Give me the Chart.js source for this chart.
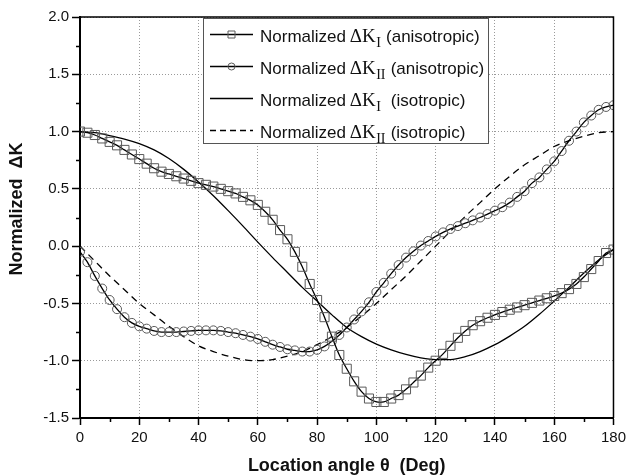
<!DOCTYPE html>
<html>
<head>
<meta charset="utf-8">
<script src="https://cdn.jsdelivr.net/npm/chart.js@4/dist/chart.umd.min.js"></script>
<style>
  html, body { margin: 0; padding: 0; background: #fff; }
  #wrap { width: 630px; height: 476px; position: relative; }
</style>
</head>
<body>
<div id="wrap"><canvas id="c" width="630" height="476"></canvas></div>
<script>
// ---- data ----
const anglesFine = [0,2.5,5,7.5,10,12.5,15,17.5,20,22.5,25,27.5,30,32.5,35,37.5,40,42.5,45,47.5,50,52.5,55,57.5,60,62.5,65,67.5,70,72.5,75,77.5,80,82.5,85,87.5,90,92.5,95,97.5,100,102.5,105,107.5,110,112.5,115,117.5,120,122.5,125,127.5,130,132.5,135,137.5,140,142.5,145,147.5,150,152.5,155,157.5,160,162.5,165,167.5,170,172.5,175,177.5,180];
const anglesCoarse = [0,5,10,15,20,25,30,35,40,45,50,55,60,65,70,75,80,85,90,95,100,105,110,115,120,125,130,135,140,145,150,155,160,165,170,175,180];

const kIAniso = [1.00,0.99,0.97,0.94,0.91,0.88,0.84,0.80,0.76,0.72,0.68,0.65,0.63,0.61,0.59,0.57,0.55,0.535,0.52,0.50,0.48,0.46,0.43,0.40,0.36,0.30,0.23,0.14,0.06,-0.05,-0.18,-0.33,-0.47,-0.62,-0.79,-0.95,-1.07,-1.18,-1.27,-1.33,-1.36,-1.36,-1.33,-1.30,-1.25,-1.19,-1.13,-1.06,-1.00,-0.94,-0.87,-0.80,-0.74,-0.69,-0.655,-0.625,-0.60,-0.575,-0.555,-0.535,-0.515,-0.495,-0.475,-0.455,-0.435,-0.41,-0.375,-0.33,-0.27,-0.20,-0.13,-0.06,-0.03];

const kIIAniso = [-0.05,-0.14,-0.26,-0.37,-0.47,-0.55,-0.62,-0.67,-0.70,-0.72,-0.74,-0.75,-0.75,-0.75,-0.745,-0.74,-0.735,-0.735,-0.735,-0.74,-0.75,-0.76,-0.775,-0.79,-0.81,-0.835,-0.86,-0.88,-0.90,-0.91,-0.92,-0.92,-0.905,-0.875,-0.83,-0.775,-0.71,-0.64,-0.57,-0.49,-0.40,-0.32,-0.24,-0.165,-0.10,-0.045,0.005,0.045,0.085,0.12,0.15,0.175,0.20,0.225,0.25,0.28,0.31,0.34,0.38,0.43,0.48,0.55,0.60,0.67,0.74,0.83,0.92,1.00,1.08,1.14,1.19,1.215,1.23];

const kIIso = [1.00,0.99,0.965,0.935,0.895,0.84,0.765,0.67,0.56,0.44,0.31,0.175,0.035,-0.10,-0.23,-0.36,-0.48,-0.60,-0.71,-0.79,-0.855,-0.905,-0.945,-0.975,-0.99,-0.99,-0.965,-0.92,-0.86,-0.785,-0.70,-0.595,-0.48,-0.36,-0.235,-0.12,-0.03];

const kIIIso = [0.00,-0.13,-0.26,-0.38,-0.50,-0.60,-0.70,-0.79,-0.87,-0.92,-0.96,-0.99,-1.00,-0.99,-0.96,-0.92,-0.86,-0.79,-0.71,-0.61,-0.50,-0.38,-0.26,-0.13,0.00,0.13,0.26,0.38,0.50,0.61,0.71,0.79,0.87,0.92,0.96,0.99,1.00];

const xTicks = [0,20,40,60,80,100,120,140,160,180];
const yTicks = [-1.5,-1.0,-0.5,0.0,0.5,1.0,1.5,2.0];

const xTitle = 'Location angle \u03b8  (Deg)';
const yTitle = 'Normalized  \u0394K';

const legendItems = [
  { sub: 'I',  tail: ' (anisotropic)', marker: 'rect',   dash: [] },
  { sub: 'II', tail: ' (anisotropic)', marker: 'circle', dash: [] },
  { sub: 'I',  tail: '  (isotropic)',  marker: null,     dash: [] },
  { sub: 'II', tail: ' (isotropic)',   marker: null,     dash: [6,4] }
];

// ---- chart ----
const SANS = '"Liberation Sans", Arial, sans-serif';
const SERIF = '"Liberation Serif", "Times New Roman", serif';
Chart.defaults.font.family = SANS;
Chart.defaults.font.size = 15;
Chart.defaults.color = '#111';

const pairs = (xs, ys) => xs.map((x, i) => ({ x: x, y: ys[i] }));
const MARK = '#5a5a5a';

const extras = {
  id: 'extras',
  afterDraw(chart) {
    const ctx = chart.ctx;
    const a = chart.chartArea;
    const xs = chart.scales.x, ys = chart.scales.y;
    ctx.save();
    // frame top/right
    ctx.strokeStyle = '#000';
    ctx.lineWidth = 1.5;
    ctx.beginPath();
    ctx.moveTo(a.left, a.top); ctx.lineTo(a.right, a.top); ctx.lineTo(a.right, a.bottom);
    ctx.stroke();
    // minor ticks
    ctx.beginPath();
    for (let v = 10; v < 180; v += 20) {
      const px = Math.round(xs.getPixelForValue(v)) + 0.5;
      ctx.moveTo(px, a.bottom); ctx.lineTo(px, a.bottom + 4);
    }
    for (let v = -1.25; v < 2.0; v += 0.5) {
      const py = Math.round(ys.getPixelForValue(v)) + 0.5;
      ctx.moveTo(a.left, py); ctx.lineTo(a.left - 4, py);
    }
    ctx.stroke();

    // axis titles
    ctx.fillStyle = '#111';
    ctx.font = 'bold 18px ' + SANS;
    ctx.textAlign = 'center';
    ctx.textBaseline = 'middle';
    ctx.fillText(xTitle, (a.left + a.right) / 2, 466);
    ctx.save();
    ctx.translate(17.5, 209);
    ctx.rotate(-Math.PI / 2);
    ctx.fillText(yTitle, 0, 0);
    ctx.restore();
    ctx.textAlign = 'left';

    // legend box
    const bx = 203, by = 18, bw = 285, bh = 125;
    ctx.fillStyle = '#fff';
    ctx.fillRect(bx, by, bw, bh);
    ctx.strokeStyle = '#555';
    ctx.lineWidth = 1;
    ctx.strokeRect(bx + 0.5, by + 0.5, bw, bh);
    const rows = [34, 66, 98, 130];
    legendItems.forEach((it, i) => {
      const y = rows[i] + 0.5;
      ctx.strokeStyle = '#000';
      ctx.lineWidth = 1.3;
      ctx.setLineDash(it.dash);
      ctx.beginPath(); ctx.moveTo(210, y); ctx.lineTo(253, y); ctx.stroke();
      ctx.setLineDash([]);
      if (it.marker) {
        ctx.strokeStyle = MARK; ctx.lineWidth = 1;
        ctx.beginPath();
        if (it.marker === 'rect') ctx.rect(231.5 - 3.5, y - 3.5, 7, 7);
        else ctx.arc(231.5, y, 3.5, 0, Math.PI * 2);
        ctx.stroke();
      }
      let x = 260;
      ctx.fillStyle = '#111';
      ctx.textBaseline = 'alphabetic';
      const base = y + 7.5;
      ctx.font = '17px ' + SANS;
      ctx.fillText('Normalized ', x, base); x += ctx.measureText('Normalized ').width - 1;
      ctx.font = '19px ' + SERIF;
      ctx.fillText('\u0394K', x, base); x += ctx.measureText('\u0394K').width;
      ctx.font = '14px ' + SERIF;
      ctx.fillText(it.sub, x + 0.5, base + 4.5); x += ctx.measureText(it.sub).width + 1;
      ctx.font = '17px ' + SANS;
      ctx.fillText(it.tail, x, base);
    });
    ctx.restore();
  }
};

new Chart(document.getElementById('c'), {
  type: 'line',
  data: {
    datasets: [
      { label: 'Normalized \u0394K_I (anisotropic)', data: pairs(anglesFine, kIAniso),
        borderColor: '#000', borderWidth: 1.3, pointStyle: 'rect', pointRadius: 6.4,
        pointBorderColor: MARK, pointBackgroundColor: 'rgba(0,0,0,0)', pointBorderWidth: 1, tension: 0.3 },
      { label: 'Normalized \u0394K_II (anisotropic)', data: pairs(anglesFine, kIIAniso),
        borderColor: '#000', borderWidth: 1.3, pointStyle: 'circle', pointRadius: 4.5,
        pointBorderColor: MARK, pointBackgroundColor: 'rgba(0,0,0,0)', pointBorderWidth: 1, tension: 0.3 },
      { label: 'Normalized \u0394K_I (isotropic)', data: pairs(anglesCoarse, kIIso),
        borderColor: '#000', borderWidth: 1.3, pointRadius: 0, cubicInterpolationMode: 'monotone' },
      { label: 'Normalized \u0394K_II (isotropic)', data: pairs(anglesCoarse, kIIIso),
        borderColor: '#000', borderWidth: 1.3, borderDash: [7, 5], pointRadius: 0, cubicInterpolationMode: 'monotone' }
    ]
  },
  options: {
    responsive: false,
    animation: false,
    events: [],
    layout: { padding: { left: 0, top: 17, right: 13, bottom: 0 } },
    plugins: { legend: { display: false }, tooltip: { enabled: false } },
    scales: {
      x: {
        type: 'linear', min: 0, max: 180,
        afterBuildTicks(s) { s.ticks = xTicks.map(v => ({ value: v })); },
        afterFit(s) { s.height = 58; },
        ticks: { padding: 4, font: { size: 15 }, color: '#111', maxRotation: 0 },
        grid: { color: '#9a9a9a', lineWidth: 1, tickLength: 7, tickColor: '#000', tickWidth: 1.5, tickBorderDash: [] },
        border: { color: '#000', width: 2, dash: [1, 2] },
        title: { display: false }
      },
      y: {
        type: 'linear', min: -1.5, max: 2.0,
        afterBuildTicks(s) { s.ticks = yTicks.map(v => ({ value: v })); },
        afterFit(s) { s.width = 80; },
        ticks: { padding: 3, font: { size: 15 }, color: '#111', callback: v => v.toFixed(1) },
        grid: { color: '#9a9a9a', lineWidth: 1, tickLength: 8, tickColor: '#000', tickWidth: 1.5, tickBorderDash: [] },
        border: { color: '#000', width: 2, dash: [1, 2] },
        title: { display: false }
      }
    }
  },
  plugins: [extras]
});
</script>
</body>
</html>
